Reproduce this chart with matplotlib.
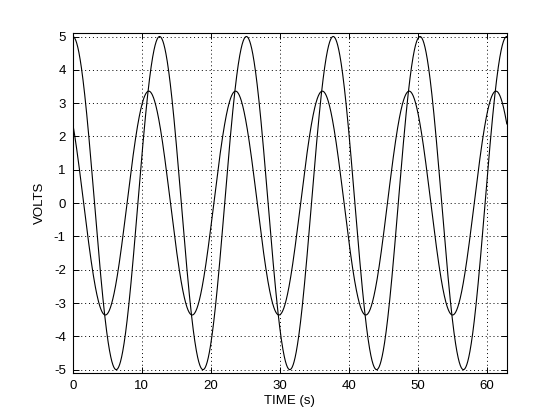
import matplotlib
matplotlib.use("Agg")
import matplotlib.pyplot as plt
import numpy as np

# curve parameters: amplitude (V), angular frequency (rad/s), phase (rad)
amplitudes = [5.0, 3.36]
omegas = [0.5, 0.5]
phases = [0.0, np.pi / 4]

t_end = 20 * np.pi
t = np.linspace(0, t_end, 2000)

x_ticks = [0, 10, 20, 30, 40, 50, 60]
y_ticks = [-5, -4, -3, -2, -1, 0, 1, 2, 3, 4, 5]

plt.rcParams["font.family"] = ["Liberation Sans", "DejaVu Sans"]
plt.rcParams["font.size"] = 9.5
plt.rcParams["axes.unicode_minus"] = False

fig = plt.figure(figsize=(5.6, 4.2), dpi=100)
ax = fig.add_axes([0.13, 0.112, 0.775, 0.809])

for a, w, p in zip(amplitudes, omegas, phases):
    ax.plot(t, a * np.cos(w * t + p), color="black", linewidth=0.8)

ax.set_xlim(0, t_end)
ax.set_ylim(-5.1, 5.1)
ax.set_xticks(x_ticks)
ax.set_yticks(y_ticks)
ax.grid(True, color="black", linestyle=(0, (1, 3)), linewidth=0.7)
ax.tick_params(direction="in", top=True, right=True, length=4, width=0.7, pad=5)
for s in ax.spines.values():
    s.set_linewidth(0.8)

ax.set_xlabel("TIME (s)", labelpad=2)
ax.set_ylabel("VOLTS", labelpad=6)

fig.savefig("out.png", dpi=100)
